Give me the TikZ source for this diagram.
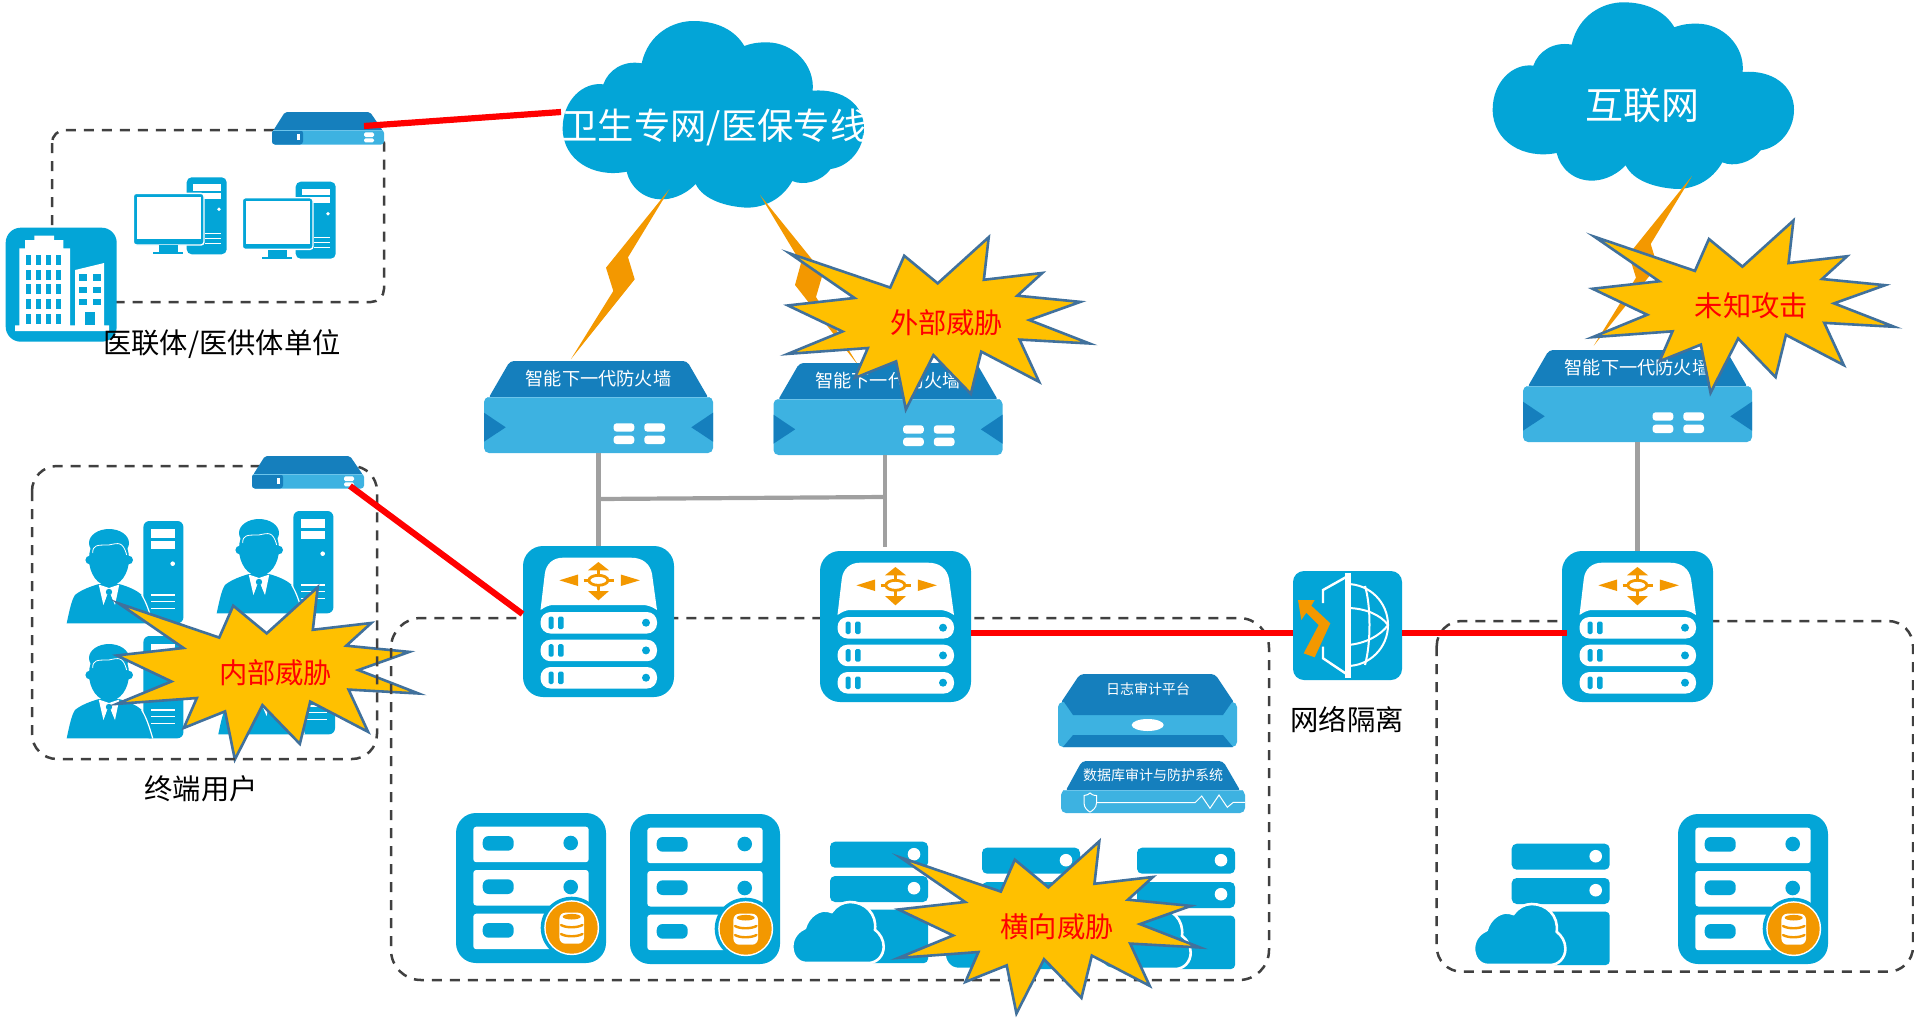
\documentclass[tikz,border=0pt]{standalone}
\usepackage{fontspec}
\setmainfont{Noto Sans CJK SC}
\usetikzlibrary{calc}
\definecolor{ublue}{HTML}{03A5D7}
\definecolor{udark}{HTML}{157FBD}
\definecolor{ulight}{HTML}{3DB2E1}
\definecolor{uedge}{HTML}{6CC4EA}
\definecolor{uorange}{HTML}{F39800}
\definecolor{uyellow}{HTML}{FFC000}
\definecolor{ustroke}{HTML}{41719C}
\definecolor{ugrey}{HTML}{A0A0A0}
\definecolor{udash}{HTML}{404040}
\tikzset{
  zone/.style={draw=udash,line width=2.5pt,dash pattern=on 10pt off 8pt},
  redlink/.style={draw=red,line width=6.2pt},
  greylink/.style={draw=ugrey,line width=4.2pt},
  tile/.style={rectangle,fill=ublue,inner sep=0pt,outer sep=0pt,rounded corners=#1},
  tile/.default=20pt,
  panel/.style={rectangle,fill=ulight,inner sep=0pt,outer sep=0pt,rounded corners=5pt},
  lab/.style={inner sep=0pt,font=\fontsize{28.3}{30}\selectfont},
  devtxt/.style={inner sep=0pt,text=white,font=\fontsize{18.2}{20}\selectfont},
  smalltxt/.style={inner sep=0pt,text=white,font=\fontsize{14}{16}\selectfont},
  cloudtxt/.style={inner sep=0pt,text=white,font=\fontsize{36.3}{40}\selectfont},
  bursttxt/.style={inner sep=0pt,text=red,font=\fontsize{28.3}{30}\selectfont},
}
\newcommand\xswitch[3]{%
 \node[tile,minimum width=151pt,minimum height=151pt,anchor=north west] (#1) at (#2,#3) {};
 \begin{scope}[shift={(#2,#3)}]
  \fill[white] (17.5,64) -- (21.8,27.7) .. controls (23,18) and (30,11.7) .. (40,11.7) -- (108,11.7) .. controls (120,11.7) and (127,18) .. (129,27.7) -- (134,64) .. controls (128,60) and (124,59) .. (119,59) -- (30,59) .. controls (26,59) and (22,61) .. (17.5,64) -- cycle;
  \foreach \yy in {66,93.7,121}{
    \fill[white,rounded corners=10pt] (17.5,\yy) rectangle (134,\yy+21.5);
    \fill[ublue,rounded corners=1.5pt] (25.7,\yy+4.5) rectangle (30.7,\yy+17);
    \fill[ublue,rounded corners=1.5pt] (35,\yy+4.5) rectangle (40.7,\yy+17);
    \fill[ublue] (123,\yy+10.7) circle (4pt);
  }
  \draw[uorange,line width=2.8pt] (75.4,34.3) ellipse (9.5pt and 5pt);
  \draw[uorange,line width=2.4pt] (60.5,34.3) -- (66,34.3) (85,34.3) -- (90.5,34.3) (75.4,24) -- (75.4,29) (75.4,40) -- (75.4,45);
  \fill[uorange] (75.4,16) -- (86,24.3) -- (65,24.3) -- cycle;
  \fill[uorange] (75.4,54.3) -- (86,45) -- (65,45) -- cycle;
  \fill[uorange] (36.4,34.3) -- (55,28.5) -- (55,40) -- cycle;
  \fill[uorange] (116.8,34.3) -- (97.8,28.5) -- (97.8,40) -- cycle;
 \end{scope}}
\newcommand\xfw[4]{%
 \begin{scope}[shift={(#2,#3)}]
  \fill[udark,rounded corners=4pt] (4,38) -- (26,0) -- (203,0) -- (225,38) -- cycle;
  \node[panel,minimum width=229pt,minimum height=56pt,anchor=north west] (#1) at (0,36) {};
  \draw[uedge,line width=1pt] (3,36.5) -- (226,36.5);
  \fill[udark] (0,51.7) -- (21.7,66.3) -- (0,80.7) -- cycle;
  \fill[udark] (229,51.7) -- (207.3,66.3) -- (229,80.7) -- cycle;
  \foreach \xx in {129.6,160.3}\foreach \yy in {62.3,74.7}
    \fill[white,rounded corners=3pt] (\xx,\yy) rectangle (\xx+20.7,\yy+8.3);
  \node[devtxt] (#1t) at (114.5,18) {#4};
 \end{scope}}
\newcommand\xappl[3]{%
 \begin{scope}[shift={(#2,#3)}]
  \fill[udark,rounded corners=2pt] (1,19) -- (13,0) -- (98,0) -- (111,19) -- cycle;
  \node[panel,minimum width=112pt,minimum height=14.5pt,anchor=north west,rounded corners=3pt] (#1) at (0,18) {};
  \fill[udark,rounded corners=3pt] (0,18) -- (31,18) -- (31,32.5) -- (0,32.5) -- cycle;
  \draw[uedge,line width=.8pt] (1,18) -- (111,18);
  \fill[white] (24.7,22) rectangle (27.7,28);
  \fill[white,rounded corners=1.5pt] (92,20.3) rectangle (102,25);
  \fill[white,rounded corners=1.5pt] (92,26.3) rectangle (102,30.3);
 \end{scope}}
\newcommand\xdbsrv[3]{%
 \node[tile,minimum width=150pt,minimum height=150pt,anchor=north west] (#1) at (#2,#3) {};
 \begin{scope}[shift={(#2,#3)}]
  \foreach \yy in {13.7,57,100.7}{
   \fill[white,rounded corners=3pt] (17.3,\yy) rectangle (132.7,\yy+35.5);
   \fill[ublue,rounded corners=6pt] (26.7,\yy+9.3) rectangle (57.7,\yy+24);
  }
  \fill[ublue] (114.7,30) circle (7.3pt);
  \fill[ublue] (114.7,74) circle (7.3pt);
  \fill[ublue] (115.7,114.7) circle (31pt);
  \fill[white] (115.7,114.7) circle (27.5pt);
  \fill[uorange] (115.7,114.7) circle (26pt);
  \fill[white,rounded corners=6pt] (103.4,99.7) rectangle (128,130.7);
  \fill[uorange] (115.7,103.7) ellipse (9pt and 2.8pt);
  \foreach \yy in {112,121}
   \draw[uorange,line width=2.4pt,line cap=round] (105,\yy) .. controls (110,\yy+3) and (121,\yy+3) .. (126.5,\yy);
 \end{scope}}
\newcommand\xcloudsrv[3]{%
 \begin{scope}[shift={(#2,#3)}]
  \node[tile=5pt,minimum width=98pt,minimum height=26pt,anchor=north west] (#1) at (0,0) {};
  \fill[white] (84,12.5) circle (6.3pt);
  \fill[ublue,rounded corners=5pt] (0,34.3) rectangle (98,60.3);
  \fill[white] (84,46.5) circle (6.3pt);
  \fill[ublue,rounded corners=4pt] (30,68) rectangle (98,121.3);
  \draw[fill=ublue,draw=white,line width=2.6pt] (-23.3,121.3) .. controls (-33,121.3) and (-37.7,113) .. (-37.7,104.7) .. controls (-37.7,95) and (-31,89) .. (-25,86.3) .. controls (-22,75) and (-10,65) .. (1.7,70.3) .. controls (6,64) and (13,60.3) .. (20,60.3) .. controls (35,60.3) and (47,72) .. (45,88) .. controls (50,92) and (53.7,98) .. (53.7,105) .. controls (53.7,114) and (47,121.3) .. (38.3,121.3) -- cycle;
 \end{scope}}
\newcommand\xpc[3]{%
 \begin{scope}[shift={(#2,#3)}]
  \node[tile=5pt,minimum width=40pt,minimum height=77pt,anchor=north west] (#1) at (53.4,0) {};
  \fill[white] (59.3,7) rectangle (87.3,13.7);
  \fill[white] (59.3,15.3) rectangle (87.3,21.7);
  \fill[white] (85.7,32) circle (1.9pt);
  \draw[fill=ublue,draw=white,line width=1.4pt,rounded corners=3pt] (0,16) rectangle (70.7,67.7);
  \fill[white] (3.3,19.3) rectangle (67.7,62);
  \foreach \yy in {56,61,66} \draw[white,line width=.9pt] (72,\yy) -- (87.3,\yy);
  \fill[ublue] (25.7,68) rectangle (44.3,75);
  \fill[ublue] (20,75) rectangle (50,77);
 \end{scope}}
\newcommand\xperson[3]{%
 \begin{scope}[shift={(#2,#3)}]
  \node[tile=6pt,minimum width=40pt,minimum height=102.3pt,anchor=north west] (#1) at (76.7,0) {};
  \fill[white] (84.3,8.3) rectangle (108.3,17.3);
  \fill[white] (84.3,20) rectangle (108.3,28.3);
  \fill[white] (106,42.7) circle (2.3pt);
  \foreach \yy in {74,80.7,87.7} \draw[white,line width=1.3pt] (84.3,\yy) -- (108.3,\yy);
  \draw[fill=ublue,draw=none] (0,102.3) .. controls (3,88) and (5,79) .. (8.3,74) .. controls (14,69) and (25,65) .. (32.3,63) -- (52.3,63) .. controls (60,65) and (70,69) .. (75,74) .. controls (80,82) and (83,92) .. (85,102.3) -- cycle;
  \draw[white,line width=1.2pt] (75,74) .. controls (80,82) and (83,92) .. (86,102.3);
  \fill[ublue] (42.3,38) ellipse (20pt and 27pt);
  \fill[ublue] (42.3,22) ellipse (20pt and 14pt);
  \fill[ublue] (23,39) circle (4.3pt);
  \fill[ublue] (62,39) circle (4.3pt);
  \draw[white,line width=.8pt] (26,32) .. controls (26,24) and (30,24) .. (42,24) .. controls (52,22) and (56,20) .. (60,34);
  \fill[white] (32,63.5) -- (36.7,84) -- (42.3,70) -- (48.3,84) -- (52.6,63.5) -- (42.3,67) -- cycle;
  \fill[white] (40,67) -- (45,67) -- (42.3,72) -- cycle;
  \fill[ublue] (42.3,71) circle (3.2pt);
  \fill[ublue] (40.5,74) -- (44,74) -- (47,84) -- (37.5,84) -- cycle;
 \end{scope}}
\newcommand\xcloud[2]{%
 \begin{scope}[shift={(#1,#2)},x=.33333pt,y=-.33333pt]
  \fill[ublue] (275,160) .. controls (295,70) and (370,33) .. (430,33) .. controls (500,33) and (555,60) .. (583,108) .. controls (610,98) and (630,97) .. (650,97) .. controls (730,97) and (795,165) .. (788,242) .. controls (880,235) and (942,285) .. (942,355) .. controls (942,420) and (895,470) .. (842,477) .. controls (815,515) and (760,528) .. (727,513) .. controls (695,570) and (640,593) .. (590,593) .. controls (530,590) and (460,570) .. (437,522) .. controls (400,560) and (360,568) .. (335,568) .. controls (280,568) and (240,530) .. (230,485) .. controls (130,505) and (38,450) .. (38,355) .. controls (38,270) and (100,215) .. (160,223) .. controls (175,180) and (220,150) .. (275,160) -- cycle;
 \end{scope}}
\newcommand\xbolt[2]{%
 \begin{scope}[shift={(#1,#2)}]
  \fill[uorange] (669.3,189.3) -- (628,257.3) -- (634.7,279.3) -- (571,359) -- (613.3,291) -- (606,267.7) -- cycle;
 \end{scope}}
\newcommand\xburst[4]{%
 \begin{scope}[shift={(#2,#3)},x=.33333pt,y=-.33333pt]
  \begin{scope}[shift={(506,310)},scale=.975,shift={(-506,-310)}]
  \draw[fill=uyellow,draw=ustroke,line width=2.6pt] (48,95) -- (357,200) -- (400,102) -- (503,187) -- (660,45) -- (645,176) -- (825,155) -- (748,225) -- (942,244) -- (785,300) -- (970,372) -- (755,360) -- (815,490) -- (637,397) -- (605,527) -- (490,408) -- (405,575) -- (375,427) -- (248,478) -- (288,386) -- (42,404) -- (210,335) -- (42,255) -- (247,232) -- cycle;
  \end{scope}
  \node[bursttxt] (#1) at (530,307) {#4};
 \end{scope}}
\begin{document}
\begin{tikzpicture}[x=1pt,y=-1pt]
\useasboundingbox (0,0) rectangle (1914,1020);
\fill[white] (0,0) rectangle (1914,1020);
\xperson{p1}{66.7}{521}
\xperson{p2}{216.7}{511}
\xperson{p3}{66.7}{636}
\xperson{p4}{218.3}{632}
\xburst{bInner}{99}{570}{内部威胁}
\draw[zone,rounded corners=13pt] (52,130) rectangle (384,302);
\draw[zone,rounded corners=25pt] (32,466) rectangle (377,759);
\draw[zone,rounded corners=30pt] (391,618) rectangle (1269,980);
\draw[zone,rounded corners=25pt] (1436.7,621) rectangle (1913,971.7);
\xcloud{550}{10}
\xcloud{1480}{-8.7}
\xbolt{0}{0}
\xbolt{1022.7}{-13.3}
\fill[uorange] (760,195) -- (801,263) -- (795,285) -- (858,365) -- (816,297) -- (823,273) -- cycle;
\node[cloudtxt] (tWs) at (714,127) {卫生专网/医保专线};
\node[cloudtxt,font=\fontsize{38}{40}\selectfont] (tNet) at (1642,106) {互联网};
\xpc{pc1}{133.3}{177.3}
\xpc{pc2}{242.3}{181.7}
\node[tile=15pt,minimum width=111pt,minimum height=114pt,anchor=north west] (bld) at (5.7,227.7) {};
\begin{scope}[shift={(5.7,227.7)},x=.33333pt,y=-.33333pt]
 \fill[white] (41,293) -- (41,62) -- (58,62) -- (58,37) -- (86,37) -- (86,24) -- (145,24) -- (145,37) -- (173,37) -- (173,62) -- (193,62) -- (193,293) -- (208,293) -- (208,127) -- (295,106) -- (295,293) -- (310,293) -- (310,310) -- (28,310) -- (28,293) -- cycle;
 \foreach \xx in {61,91,121,151}\foreach \yy in {82,127,170,214,259}
   \fill[ublue] (\xx,\yy) rectangle (\xx+15,\yy+30);
 \foreach \xx in {220,262}\foreach \yy in {140,177,214}
   \fill[ublue] (\xx,\yy) rectangle (\xx+23,\yy+19);
 \fill[ublue] (238,253) rectangle (268,293);
\end{scope}
\node[lab] (tUnit) at (222,344) {医联体/医供体单位};
\node[lab] (tUser) at (201,789) {终端用户};
\xappl{a1}{272}{112}
\xappl{a2}{252}{456}
\xfw{fw1}{484}{361}{智能下一代防火墙}
\xfw{fw2}{773.5}{363}{智能下一代防火墙}
\xfw{fw3}{1523}{350}{智能下一代防火墙}
\xswitch{sw1}{523}{546}
\xswitch{sw2}{820}{551}
\xswitch{sw3}{1562}{551}
\coordinate (j1) at (599,499);
\coordinate (j2) at (885,497);
\coordinate (j2b) at (885,547);
\draw[greylink] (fw1.south) -- (sw1.north);
\draw[greylink] (j2 |- fw2.south) -- (j2b);
\draw[greylink] (j1) -- (j2);
\draw[greylink] (fw3.south) -- (sw3.north);
\fill[udark,rounded corners=4pt] (1060,704) -- (1080,674) -- (1215,674) -- (1235,704) -- cycle;
\node[panel,minimum width=179pt,minimum height=45pt,anchor=north west] (log) at (1058,702) {};
\fill[udark] (1064,702) -- (1232,702) -- (1223,715) -- (1073,715) -- cycle;
\fill[udark] (1073,735) -- (1223,735) -- (1233,747) -- (1063,747) -- cycle;
\fill[white] (1147.7,725) ellipse (16pt and 6pt);
\node[smalltxt] (tLog) at (1148,689) {日志审计平台};
\fill[udark,rounded corners=4pt] (1065,792) -- (1082,761) -- (1223,761) -- (1241,792) -- cycle;
\node[panel,minimum width=184pt,minimum height=23pt,anchor=north west] (dba) at (1061,790) {};
\draw[uedge,line width=.8pt] (1063,790.5) -- (1243,790.5);
\draw[white,line width=1pt] (1084,795.5) .. controls (1087,795.5) and (1089,794) .. (1090,793) .. controls (1091,794) and (1093,795.5) .. (1096.5,795.5) -- (1096.5,803) .. controls (1096.5,808) and (1092,811) .. (1090,812) .. controls (1088,811) and (1084,808) .. (1084,803) -- cycle;
\draw[white,line width=1pt] (1097,802.7) -- (1195,802.7) -- (1201.7,796) -- (1210,808.3) -- (1219,795) -- (1227.3,807.3) -- (1233.3,802.3) -- (1245,802.3);
\node[smalltxt] (tDba) at (1153,775) {数据库审计与防护系统};
\node[tile=11pt,minimum width=109pt,minimum height=109pt,anchor=north west] (iso) at (1293,571) {};
\begin{scope}[shift={(1293,571)}]
 \draw[white,line width=2pt] (95,54) arc[start angle=0,end angle=-90,radius=41pt];
 \draw[white,line width=2pt] (95,54) arc[start angle=0,end angle=90,radius=41pt];
 \draw[white,line width=2pt] (54,37) .. controls (72,37) and (88,44) .. (95,54) .. controls (88,64) and (72,73) .. (54,74);
 \draw[white,line width=2pt] (72,15) .. controls (78,35) and (78,72) .. (72,94);
 \fill[white] (52,2.3) -- (57.5,2.3) -- (57.5,107) -- (52,107) -- cycle;
 \draw[white,line width=2.4pt,line join=miter] (55,5) -- (30,19) -- (30,32);
 \draw[white,line width=2.4pt,line join=miter] (30,75.7) -- (30,87.3) -- (55,104);
 \fill[uorange] (5,29) -- (21.7,29) -- (18.3,34.7) -- (37.3,52.3) -- (21.7,86.3) -- (10.7,82.3) -- (25.7,54) -- (13.3,41.7) -- (8.3,49) -- cycle;
\end{scope}
\node[lab] (tIso) at (1347,720) {网络隔离};
\xdbsrv{db1}{456}{813}
\xdbsrv{db2}{630}{814}
\xdbsrv{db3}{1678}{814}
\xcloudsrv{cs1}{830}{841.7}
\xcloudsrv{cs2}{982}{847.7}
\xcloudsrv{cs3}{1137}{847.7}
\xcloudsrv{cs4}{1511.7}{843.7}
\coordinate (a1p) at (364,126);
\coordinate (cloudA) at (561,112);
\coordinate (a2p) at (350,486);
\coordinate (sw1p) at (522.5,614);
\coordinate (redy) at (0,633);
\coordinate (sw3p) at (1567,633);
\draw[redlink] (a1p) -- (cloudA);
\draw[redlink] (a2p) -- (sw1p);
\draw[redlink] (sw2.east |- redy) -- (iso.west |- redy);
\draw[redlink] (iso.east |- redy) -- (sw3p);
\xburst{bOuter}{770}{220}{外部威胁}
\xburst{bUnknown}{1574.7}{203.3}{未知攻击}
\xburst{bSide}{880.6}{824}{横向威胁}
\end{tikzpicture}
\end{document}
